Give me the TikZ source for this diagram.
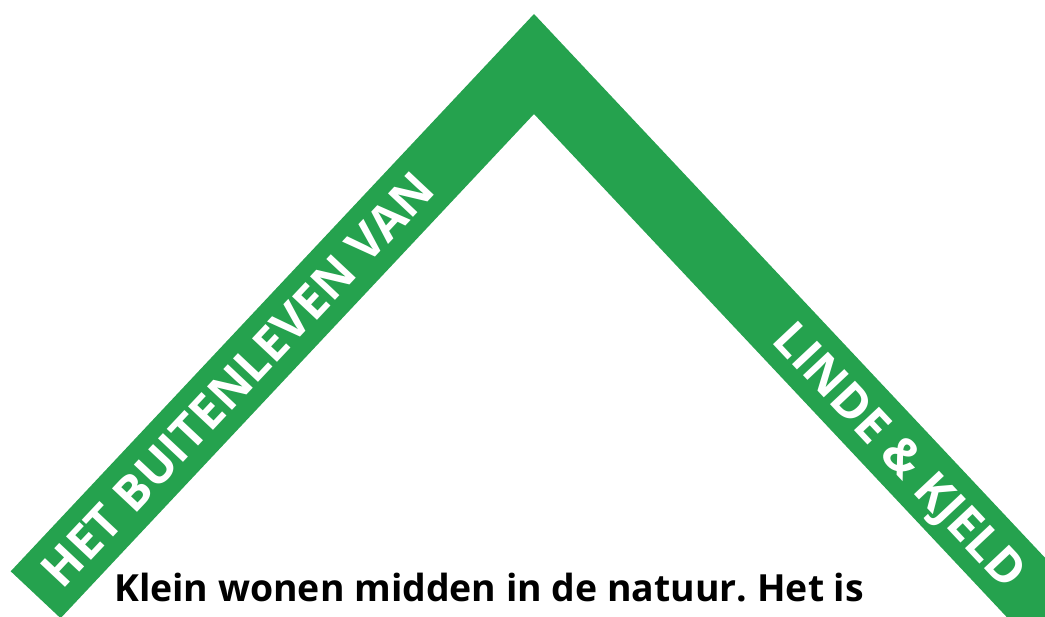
\documentclass[tikz,border=0pt]{standalone}
\usepackage{fontspec}
\setmainfont{Open Sans}
\frenchspacing
\definecolor{roofgreen}{RGB}{37,162,78}
\begin{document}
\begin{tikzpicture}[x=1pt, y=-1pt,
    bandText/.style={text=white, inner sep=0pt, text height=34.3pt, text depth=0pt,
        font=\bfseries\fontsize{48}{48}\selectfont},
    introText/.style={inner sep=0pt, anchor=base west,
        font=\bfseries\fontsize{37.4}{40}\selectfont}]
    \useasboundingbox (0, 0) rectangle (1045, 617);
    \clip (0, 0) rectangle (1045, 617);

    % roof
    \coordinate (top) at (534, 14);
    \coordinate (inner) at (534, 114);
    \coordinate (leftOut) at (10.7, 571.3);
    \coordinate (leftIn) at (60.6, 618.2);
    \coordinate (rightIn) at (1150, 769.5);
    \coordinate (rightOut) at (1150, 669.5);
    \fill[roofgreen] (top) -- (leftOut) -- (leftIn) -- (inner) -- (rightIn) -- (rightOut) -- cycle;

    \node[bandText, rotate=46.8](leftLabel) at (237.7, 379.6) {HET BUITENLEVEN VAN};
    \node[bandText, rotate=-46.8](rightLabel) at (900.7, 454.5) {LINDE \& KJELD};

    \node[introText](intro) at (114, 601.7) {Klein wonen midden in de natuur. Het is};
\end{tikzpicture}
\end{document}
